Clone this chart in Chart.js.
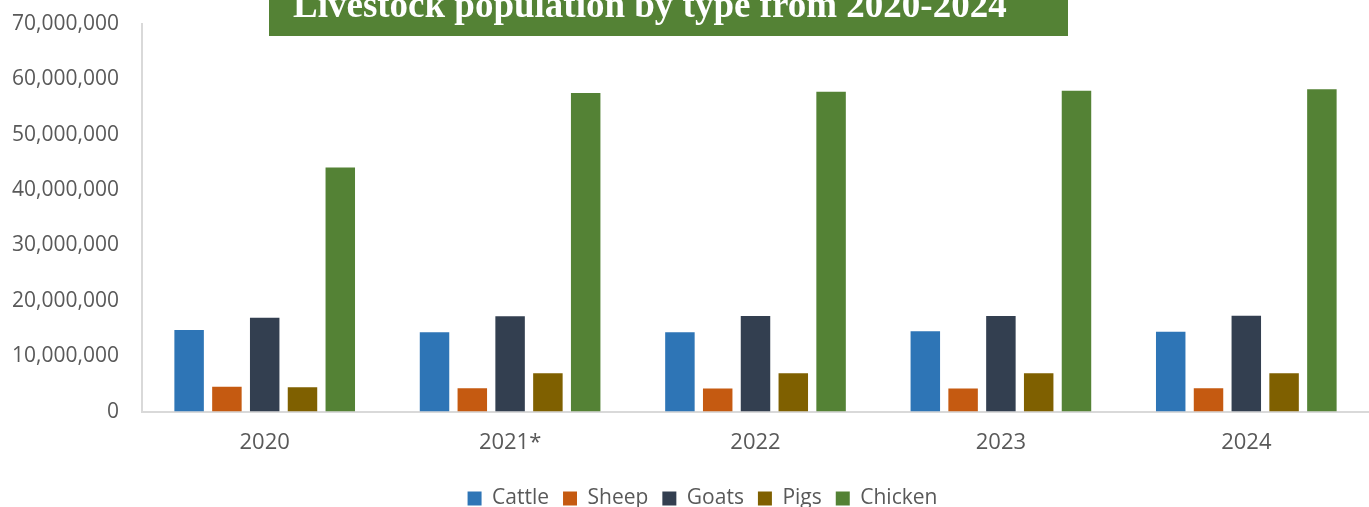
<!DOCTYPE html>
<html>
<head>
<meta charset="utf-8">
<script src="https://cdn.jsdelivr.net/npm/chart.js@4.4.1/dist/chart.umd.min.js"></script>
<style>
  html, body { margin: 0; padding: 0; background: #fff; }
  #wrap { width: 1369px; height: 507px; }
</style>
</head>
<body>
<div id="wrap"><canvas id="myChart" width="1369" height="507"></canvas></div>
<script>
// livestock chart
const ctx = document.getElementById("myChart")

const years = ["2020", "2021*", "2022", "2023", "2024"]
const cattle = [14750000, 14330000, 14330000, 14500000, 14440000]
const sheep = [4500000, 4220000, 4160000, 4160000, 4220000]
const goats = [16970000, 17220000, 17280000, 17280000, 17330000]
const pigs = [4400000, 6930000, 6930000, 6930000, 6930000]
const chicken = [44100000, 57550000, 57750000, 57930000, 58200000]
const yTicks = [0, 10000000, 20000000, 30000000, 40000000, 50000000, 60000000, 70000000]

const colores = ["#2E75B6", "#C55A11", "#333F50", "#7F6000", "#548235"]
const gris = "#595959"
const titulo = "Livestock population by type from 2020-2024"

// green banner with the title (cut at the top like the original)
const tituloPlugin = {
  id: "tituloVerde",
  afterLayout(chart) {
    // legend sits a bit right of the canvas centre in the original
    chart.legend.left += 13
    chart.legend.right += 13
  },
  afterDraw(chart) {
    const c = chart.ctx
    c.save()
    c.fillStyle = "#548235"
    c.fillRect(269, 0, 799, 36)
    c.fillStyle = "#ffffff"
    c.font = "bold 37px 'Liberation Serif', 'Times New Roman', serif"
    c.textAlign = "left"
    c.textBaseline = "alphabetic"
    c.fillText(titulo, 293, 17)
    c.restore()
  },
}

const fuente = { family: "'Open Sans', sans-serif", size: 22 }
const fuenteY = { family: "'Open Sans', sans-serif", size: 21 }
const fuenteLeyenda = { family: "'Open Sans', sans-serif", size: 21 }

new Chart(ctx, {
  type: "bar",
  data: {
    labels: years,
    datasets: [
      { label: "Cattle", data: cattle, backgroundColor: colores[0] },
      { label: "Sheep", data: sheep, backgroundColor: colores[1] },
      { label: "Goats", data: goats, backgroundColor: colores[2] },
      { label: "Pigs", data: pigs, backgroundColor: colores[3] },
      { label: "Chicken", data: chicken, backgroundColor: colores[4] },
    ],
  },
  options: {
    responsive: false,
    animation: false,
    datasets: {
      bar: { categoryPercentage: 0.77, barPercentage: 0.78 },
    },
    layout: { padding: { top: 24, left: 10, right: 0, bottom: -12 } },
    scales: {
      x: {
        grid: { display: false, drawTicks: false },
        border: { display: true, color: "#D9D9D9", width: 2 },
        ticks: { color: gris, font: fuente, padding: 18 },
      },
      y: {
        min: 0,
        max: 70000000,
        afterBuildTicks: (scale) => {
          scale.ticks = yTicks.map((v) => ({ value: v }))
        },
        afterFit: (scale) => {
          scale.width = 132
          scale.paddingTop = 0
          scale.paddingBottom = 0
        },
        grid: { display: false, drawTicks: false },
        border: { display: true, color: "#D9D9D9", width: 2 },
        ticks: {
          color: gris,
          font: fuenteY,
          padding: 23,
          callback: (v) => Number(v).toLocaleString("en-US"),
        },
      },
    },
    plugins: {
      legend: {
        position: "bottom",
        labels: {
          color: gris,
          font: fuenteLeyenda,
          boxWidth: 14,
          boxHeight: 14,
          padding: 14,
        },
      },
      title: { display: false },
      tooltip: { enabled: false },
    },
  },
  plugins: [tituloPlugin],
})
</script>
</body>
</html>
